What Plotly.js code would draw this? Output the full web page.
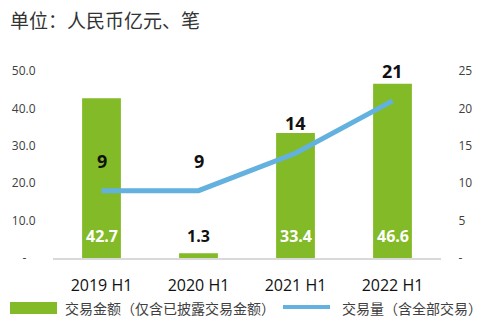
<!DOCTYPE html>
<html>
<head>
<meta charset="utf-8">
<script src="https://cdn.plot.ly/plotly-3.0.1.min.js"></script>
<style>html,body{margin:0;padding:0;background:#fff;}#chart{width:485px;height:330px;}</style>
</head>
<body>
<div id="chart"></div>
<script>
const categories = ['2019 H1', '2020 H1', '2021 H1', '2022 H1'];
const amountValues = [42.7, 1.3, 33.4, 46.6];
const countValues = [9, 9, 14, 21];
const leftTickVals = [0, 10, 20, 30, 40, 50];
const leftTickText = ['-\u00a0\u00a0\u00a0', '10.0', '20.0', '30.0', '40.0', '50.0'];
const rightTickVals = [0, 5, 10, 15, 20, 25];
const rightTickText = ['-', '5', '10', '15', '20', '25'];
const titleText = '单位：人民币亿元、笔';
const amountName = '交易金额（仅含已披露交易金额）';
const countName = '交易量（含全部交易）';

const GREEN = '#82bb27';
const BLUE = '#63b1de';
const FONT = '"Open Sans", "Noto Sans CJK SC", sans-serif';
const CJK = '"Noto Sans CJK SC", sans-serif';

// plot area pixel geometry (for paper conversion of legend items)
const L = 53, R = 441, T = 71, B = 258;
const px = x => (x - L) / (R - L);
const py = y => (B - y) / (B - T);

const traces = [
  {
    type: 'bar', x: categories, y: amountValues, name: amountName,
    marker: {color: GREEN}, yaxis: 'y', showlegend: false, hoverinfo: 'skip'
  },
  {
    type: 'scatter', mode: 'lines', x: categories, y: countValues, name: countName,
    line: {color: BLUE, width: 5}, yaxis: 'y2', showlegend: false, hoverinfo: 'skip'
  }
];

const annotations = [];
categories.forEach((c, i) => {
  annotations.push({
    x: c, y: 0, xref: 'x', yref: 'y', text: amountValues[i].toFixed(1),
    showarrow: false, yanchor: 'middle', yshift: 22,
    font: {family: FONT, size: 16, color: amountValues[i] < 5 ? '#111' : '#fff', weight: 'bold'}
  });
  annotations.push({
    x: c, y: countValues[i], xref: 'x', yref: 'y2', text: String(countValues[i]),
    showarrow: false, yanchor: 'middle', yshift: 30,
    font: {family: FONT, size: 18, color: '#111', weight: 'bold'}
  });
});
annotations.push({
  x: px(63), y: py(308), xref: 'paper', yref: 'paper', text: amountName,
  showarrow: false, xanchor: 'left', yanchor: 'middle',
  font: {family: CJK, size: 14, color: '#404040'}
});
annotations.push({
  x: px(340), y: py(308), xref: 'paper', yref: 'paper', text: countName,
  showarrow: false, xanchor: 'left', yanchor: 'middle',
  font: {family: CJK, size: 14, color: '#404040'}
});

const shapes = [
  {type: 'rect', xref: 'paper', yref: 'paper', x0: px(10), x1: px(57), y0: py(314), y1: py(302),
   fillcolor: GREEN, line: {width: 0}},
  {type: 'line', xref: 'paper', yref: 'paper', x0: px(283), x1: px(330), y0: py(307), y1: py(307),
   line: {color: BLUE, width: 4}}
];

const layout = {
  width: 485, height: 330,
  margin: {l: L, r: 485 - R, t: T, b: 330 - B, pad: 0},
  paper_bgcolor: '#fff', plot_bgcolor: '#fff',
  bargap: 0.6,
  title: {
    text: titleText, xref: 'container', yref: 'container', x: 10 / 485, xanchor: 'left',
    y: 1 - 21 / 330, yanchor: 'middle', font: {family: CJK, size: 19, color: '#333'}
  },
  xaxis: {
    type: 'category', range: [-0.5, 3.5], showgrid: false, zeroline: false,
    showline: true, linecolor: '#d9d9d9', linewidth: 1.5,
    ticks: 'outside', ticklen: 12, tickcolor: 'rgba(0,0,0,0)',
    tickfont: {family: FONT, size: 16, color: '#111'}, fixedrange: true
  },
  yaxis: {
    range: [0, 50], tickvals: leftTickVals, ticktext: leftTickText,
    showgrid: false, zeroline: false, showline: false,
    ticks: 'outside', ticklen: 14, tickcolor: 'rgba(0,0,0,0)',
    tickfont: {family: FONT, size: 12, color: '#404040'}, fixedrange: true
  },
  yaxis2: {
    range: [0, 25], overlaying: 'y', side: 'right', tickvals: rightTickVals, ticktext: rightTickText,
    showgrid: false, zeroline: false, showline: false,
    ticks: 'outside', ticklen: 14, tickcolor: 'rgba(0,0,0,0)',
    tickfont: {family: FONT, size: 12, color: '#404040'}, fixedrange: true
  },
  annotations: annotations,
  shapes: shapes,
  showlegend: false
};

Plotly.newPlot('chart', traces, layout, {displayModeBar: false, staticPlot: true});
</script>
</body>
</html>
